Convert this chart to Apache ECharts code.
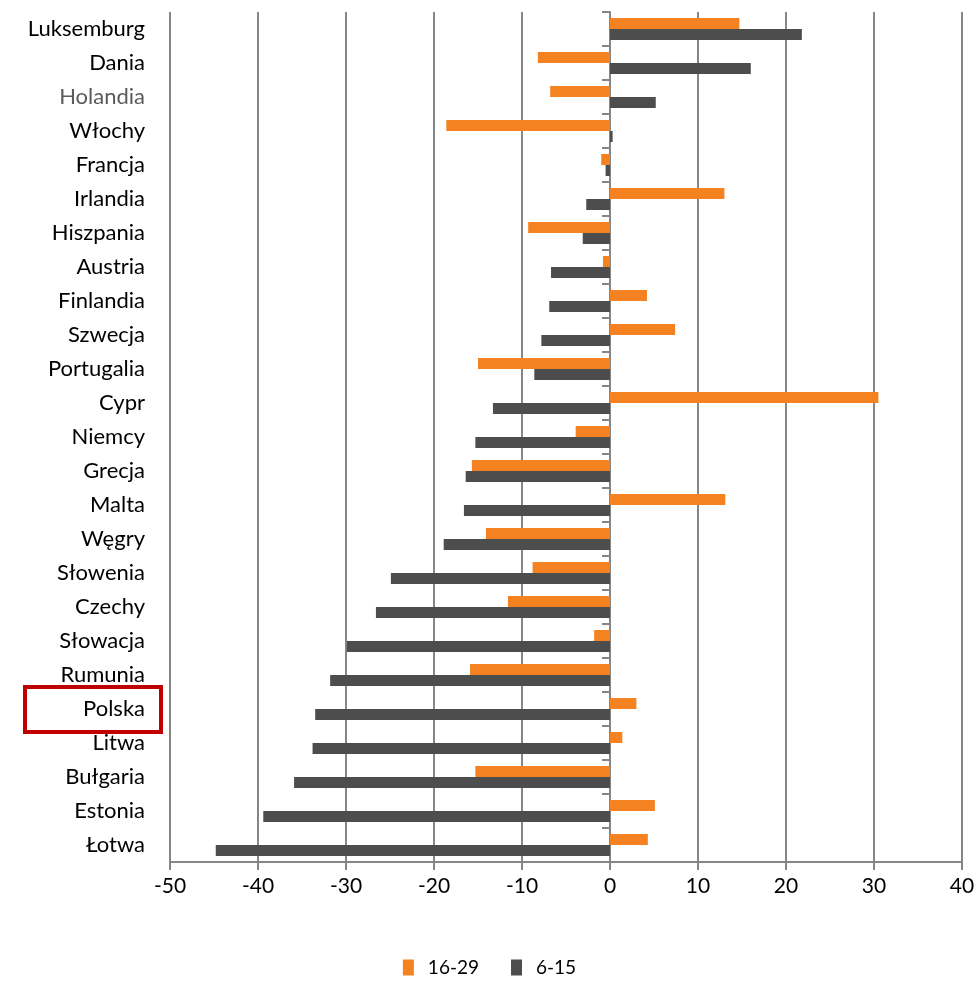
<!DOCTYPE html>
<html>
<head>
<meta charset="utf-8">
<script src="https://cdn.jsdelivr.net/npm/echarts@6/dist/echarts.min.js"></script>
<style>
html,body{margin:0;padding:0;background:#fff;}
#c{width:979px;height:984px;}
</style>
</head>
<body>
<div id="c"></div>
<script>
const categories = ['Luksemburg','Dania','Holandia','Włochy','Francja','Irlandia','Hiszpania','Austria','Finlandia','Szwecja','Portugalia','Cypr','Niemcy','Grecja','Malta','Węgry','Słowenia','Czechy','Słowacja','Rumunia','Polska','Litwa','Bułgaria','Estonia','Łotwa'];
const age16_29 = [14.7,-8.2,-6.8,-18.6,-1.0,13.0,-9.3,-0.8,4.2,7.4,-15.0,30.5,-3.9,-15.7,13.1,-14.1,-8.8,-11.6,-1.8,-15.9,3.0,1.4,-15.3,5.1,4.3];
const age6_15 = [21.8,16.0,5.2,0.3,-0.5,-2.7,-3.1,-6.7,-6.9,-7.8,-8.6,-13.3,-15.3,-16.4,-16.6,-18.9,-24.9,-26.6,-29.9,-31.8,-33.5,-33.8,-35.9,-39.4,-44.8];
const xTicks = [-50,-40,-30,-20,-10,0,10,20,30,40];
const seriesNames = ['16-29','6-15'];

const FONT = 'Lato';
const GRID = '#868686';

const chart = echarts.init(document.getElementById('c'));
const catData = categories.map(c => c === 'Holandia' ? {value: c, textStyle: {color: '#5a5a5a'}} : c);

chart.setOption({
  animation: false,
  grid: {left: 170, right: 17, top: 12, bottom: 122, containLabel: false, outerBoundsMode: 'none'},
  legend: {
    data: seriesNames,
    bottom: 2,
    left: 'center',
    itemWidth: 11,
    itemHeight: 16,
    itemGap: 32,
    icon: 'rect',
    textStyle: {fontFamily: FONT, fontSize: 19, color: '#000', padding: [0, 0, 0, 9]}
  },
  xAxis: {
    type: 'value',
    min: xTicks[0],
    max: xTicks[xTicks.length - 1],
    interval: 10,
    axisLine: {show: true, lineStyle: {color: GRID, width: 2}},
    axisTick: {show: true, length: 8, lineStyle: {color: GRID, width: 2}},
    axisLabel: {fontFamily: FONT, fontSize: 21, color: '#000', margin: 14},
    splitLine: {show: true, lineStyle: {color: GRID, width: 2}}
  },
  yAxis: [{
    type: 'category',
    data: catData,
    inverse: true,
    position: 'left',
    axisLine: {show: false, onZero: false},
    axisTick: {show: false},
    axisLabel: {fontFamily: FONT, fontSize: 22, color: '#000', margin: 25}
  }, {
    type: 'category',
    data: categories,
    inverse: true,
    position: 'left',
    offset: -440,
    axisLine: {show: true, onZero: false, lineStyle: {color: GRID, width: 2}},
    axisTick: {show: true, length: 8, lineStyle: {color: GRID, width: 2}},
    axisLabel: {show: false}
  }],
  series: [{
    name: seriesNames[0],
    type: 'bar',
    data: age16_29,
    yAxisIndex: 0,
    barWidth: 11,
    barGap: '0%',
    itemStyle: {color: '#F58220'}
  }, {
    name: seriesNames[1],
    type: 'bar',
    data: age6_15,
    yAxisIndex: 0,
    barWidth: 11,
    barGap: '0%',
    itemStyle: {color: '#4D4D4D'}
  }],
  graphic: [{
    type: 'rect',
    shape: {x: 25, y: 687, width: 136, height: 45},
    style: {fill: 'none', stroke: '#C00000', lineWidth: 4},
    z: 100
  }]
});
</script>
</body>
</html>
